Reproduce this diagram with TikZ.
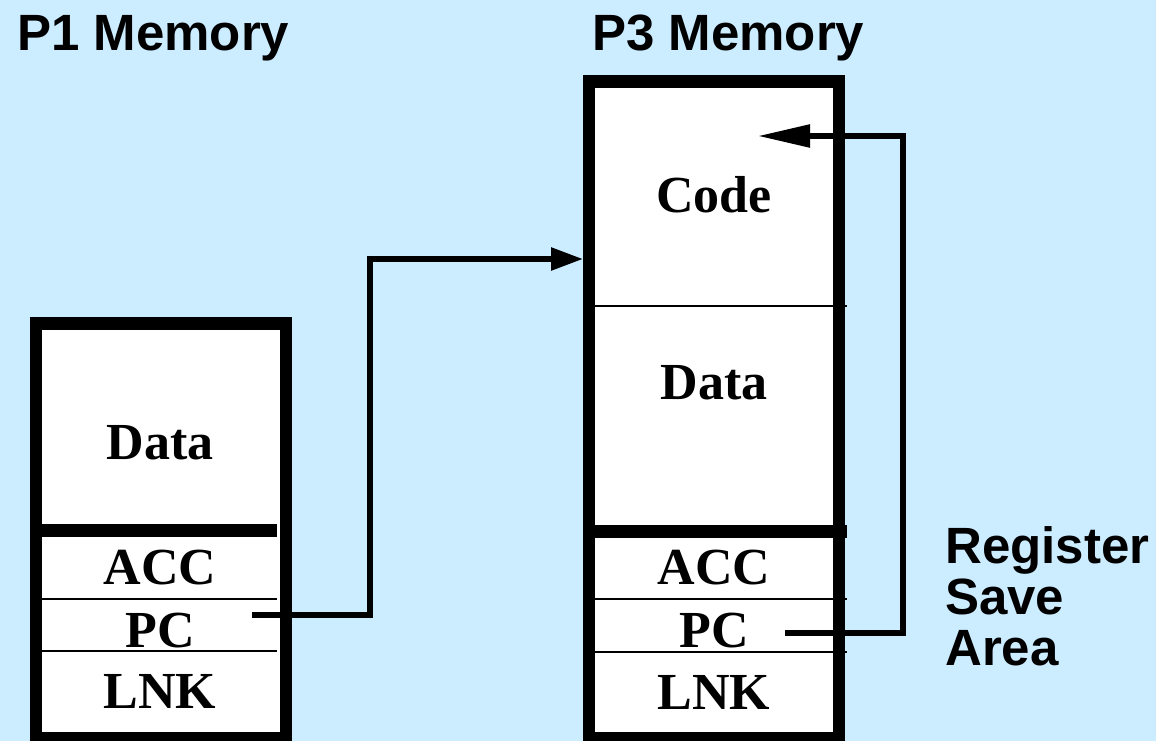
\documentclass[tikz,border=0pt]{standalone}
\usepackage{fontspec}
\setmainfont{Liberation Serif}
\newfontfamily\headfont{Liberation Sans}
\usetikzlibrary{arrows.meta}
\definecolor{pagebg}{RGB}{204,236,255}
\tikzset{
  memframe/.style={draw=black, fill=white, line width=12.5pt, line join=miter},
  thickrule/.style={line width=13pt},
  thinrule/.style={line width=2.8pt},
  cell/.style={inner sep=0pt, anchor=base, font=\fontsize{52}{52}\selectfont\bfseries},
  heading/.style={inner sep=0pt, anchor=base west, font=\fontsize{51}{51}\selectfont\headfont\bfseries},
  link/.style={line width=5.5pt, line join=miter},
}
\begin{document}
\begin{tikzpicture}[x=1pt,y=-1pt]
\useasboundingbox (0,0) rectangle (1156,741);
\fill[pagebg] (0,0) rectangle (1156,741);

% headings
\node[heading] (t1) at (17,51) {P1 Memory};
\node[heading] (t3) at (592,51) {P3 Memory};

% P1 memory block
\draw[memframe] (36,323.5) rectangle (286,738);
\draw[thickrule] (42,530.5) -- (277,530.5);
\draw[thinrule] (42,599) -- (277,599);
\draw[thinrule] (42,651) -- (277,651);
\node[cell] (d1) at (160,459) {Data};
\node[cell] (a1) at (160,584) {ACC};
\node[cell] (p1) at (160,647) {PC};
\node[cell] (l1) at (160,708) {LNK};

% P3 memory block
\draw[memframe] (589,81.5) rectangle (839,738);
\draw[thinrule] (595,306) -- (847,306);
\draw[thickrule] (595,531) -- (847,531);
\draw[thinrule] (595,599) -- (847,599);
\draw[thinrule] (595,652) -- (847,652);
\node[cell] (c3) at (714,212) {Code};
\node[cell] (d3) at (714,399) {Data};
\node[cell] (a3) at (714,584) {ACC};
\node[cell] (p3) at (714,647) {PC};
\node[cell] (l3) at (714,709) {LNK};

% register save area label
\node[inner sep=0pt, anchor=north west, align=left,
      font=\fontsize{51}{51}\selectfont\headfont\bfseries] (rsa) at (945,526)
      {Register\\Save\\Area};

% connector end points
\coordinate (p1out) at (252,615);
\coordinate (p3in) at (583,259);
\coordinate (p3out) at (785,633);
\coordinate (codein) at (758,136);

% P1's PC points into P3's code
\draw[link, -{Triangle[length=32pt,width=22pt]}]
  (p1out) -- (370,615) -- (370,259) -- (p3in);
% P3's saved PC points back into its code
\draw[link, -{Triangle[length=52pt,width=22pt]}]
  (p3out) -- (903,633) -- (903,136) -- (codein);
\end{tikzpicture}
\end{document}
